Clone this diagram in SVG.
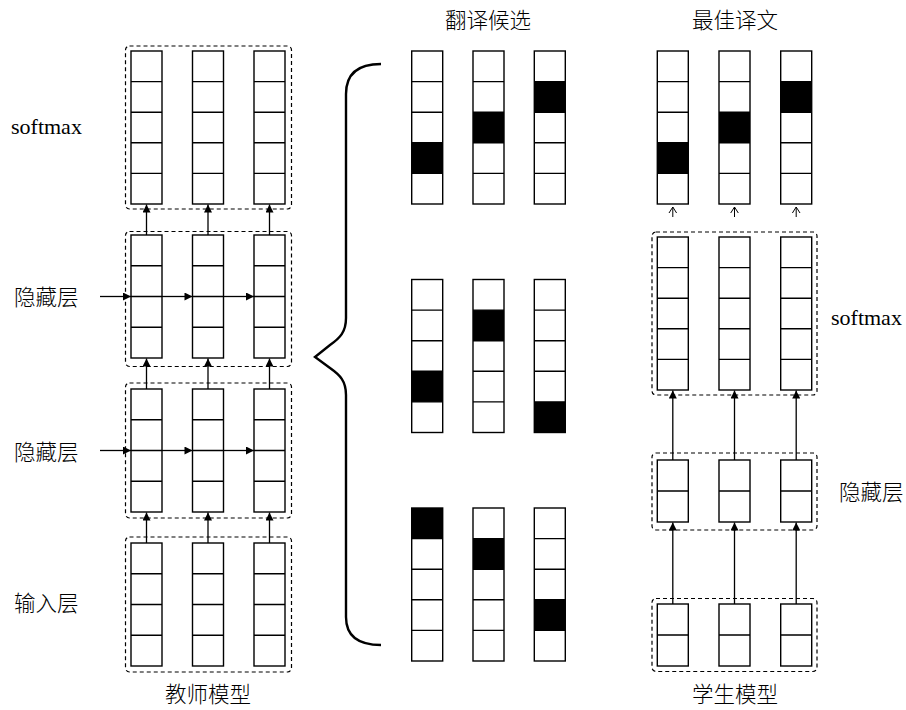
<svg xmlns="http://www.w3.org/2000/svg" width="906" height="710" viewBox="0 0 906 710">
<style>
.cell{fill:#fff;stroke:#000;stroke-width:1.4}
.div{fill:none;stroke:#000;stroke-width:1.4}
.on{fill:#000}
.box{fill:none;stroke:#000;stroke-width:1.2;stroke-dasharray:4 3}
.arr{stroke:#000;stroke-width:1.3;fill:none;marker-end:url(#ah)}
.sarr{stroke:#000;stroke-width:1;fill:none}
.lbl{font-family:"Liberation Serif","Noto Sans CJK SC",serif;font-size:22px;fill:#000}
.zh{font-family:"Noto Sans CJK SC","Liberation Sans",sans-serif;font-size:21.5px;font-weight:300;fill:#000}
.brace{fill:none;stroke:#000;stroke-width:2.4;stroke-linejoin:miter}
</style>
<defs>
<marker id="ah" viewBox="0 0 10 10" refX="10" refY="5" markerWidth="10" markerHeight="8" markerUnits="userSpaceOnUse" orient="auto">
<path d="M0,0 L10,5 L0,10 z" fill="#000"/>
</marker>
</defs>
<rect width="906" height="710" fill="#fff"/>

<!-- Teacher model -->
<g id="teacher-softmax">
<rect class="box" x="125.5" y="46" width="166" height="163" rx="4"/>
<rect class="cell" x="131" y="51" width="31" height="153"/>
<rect class="cell" x="192.5" y="51" width="31" height="153"/>
<rect class="cell" x="254" y="51" width="31" height="153"/>
<path class="div" d="M131,81.6h31M131,112.2h31M131,142.8h31M131,173.4h31M192.5,81.6h31M192.5,112.2h31M192.5,142.8h31M192.5,173.4h31M254,81.6h31M254,112.2h31M254,142.8h31M254,173.4h31"/>
</g>
<g id="teacher-hidden1">
<rect class="box" x="125.5" y="231.5" width="166" height="135" rx="4"/>
<rect class="cell" x="131" y="235" width="31" height="123"/>
<rect class="cell" x="192.5" y="235" width="31" height="123"/>
<rect class="cell" x="254" y="235" width="31" height="123"/>
<path class="div" d="M131,265.75h31M131,296.5h31M131,327.25h31M192.5,265.75h31M192.5,296.5h31M192.5,327.25h31M254,265.75h31M254,296.5h31M254,327.25h31"/>
</g>
<g id="teacher-hidden2">
<rect class="box" x="125.5" y="383" width="166" height="135" rx="4"/>
<rect class="cell" x="131" y="389" width="31" height="123"/>
<rect class="cell" x="192.5" y="389" width="31" height="123"/>
<rect class="cell" x="254" y="389" width="31" height="123"/>
<path class="div" d="M131,419.75h31M131,450.5h31M131,481.25h31M192.5,419.75h31M192.5,450.5h31M192.5,481.25h31M254,419.75h31M254,450.5h31M254,481.25h31"/>
</g>
<g id="teacher-input">
<rect class="box" x="125.5" y="537" width="166" height="135" rx="4"/>
<rect class="cell" x="131" y="543" width="31" height="123"/>
<rect class="cell" x="192.5" y="543" width="31" height="123"/>
<rect class="cell" x="254" y="543" width="31" height="123"/>
<path class="div" d="M131,573.75h31M131,604.5h31M131,635.25h31M192.5,573.75h31M192.5,604.5h31M192.5,635.25h31M254,573.75h31M254,604.5h31M254,635.25h31"/>
</g>

<!-- Candidates -->
<g id="candidates-1">
<rect class="cell" x="411.7" y="51" width="31" height="153"/>
<rect class="cell" x="473" y="51" width="31" height="153"/>
<rect class="cell" x="534.3" y="51" width="31" height="153"/>
<rect class="on" x="411.7" y="142.8" width="31" height="30.6"/>
<rect class="on" x="473" y="112.2" width="31" height="30.6"/>
<rect class="on" x="534.3" y="81.6" width="31" height="30.6"/>
<path class="div" d="M411.7,81.6h31M411.7,112.2h31M411.7,142.8h31M411.7,173.4h31M473,81.6h31M473,112.2h31M473,142.8h31M473,173.4h31M534.3,81.6h31M534.3,112.2h31M534.3,142.8h31M534.3,173.4h31"/>
</g>
<g id="candidates-2">
<rect class="cell" x="411.7" y="279.5" width="31" height="153"/>
<rect class="cell" x="473" y="279.5" width="31" height="153"/>
<rect class="cell" x="534.3" y="279.5" width="31" height="153"/>
<rect class="on" x="411.7" y="371.3" width="31" height="30.6"/>
<rect class="on" x="473" y="310.1" width="31" height="30.6"/>
<rect class="on" x="534.3" y="401.9" width="31" height="30.6"/>
<path class="div" d="M411.7,310.1h31M411.7,340.7h31M411.7,371.3h31M411.7,401.9h31M473,310.1h31M473,340.7h31M473,371.3h31M473,401.9h31M534.3,310.1h31M534.3,340.7h31M534.3,371.3h31M534.3,401.9h31"/>
</g>
<g id="candidates-3">
<rect class="cell" x="411.7" y="508" width="31" height="153"/>
<rect class="cell" x="473" y="508" width="31" height="153"/>
<rect class="cell" x="534.3" y="508" width="31" height="153"/>
<rect class="on" x="411.7" y="508" width="31" height="30.6"/>
<rect class="on" x="473" y="538.6" width="31" height="30.6"/>
<rect class="on" x="534.3" y="599.8" width="31" height="30.6"/>
<path class="div" d="M411.7,538.6h31M411.7,569.2h31M411.7,599.8h31M411.7,630.4h31M473,538.6h31M473,569.2h31M473,599.8h31M473,630.4h31M534.3,538.6h31M534.3,569.2h31M534.3,599.8h31M534.3,630.4h31"/>
</g>

<!-- Best translation -->
<g id="best-translation">
<rect class="cell" x="657.3" y="51" width="31" height="153"/>
<rect class="cell" x="719" y="51" width="31" height="153"/>
<rect class="cell" x="780.7" y="51" width="31" height="153"/>
<rect class="on" x="657.3" y="142.8" width="31" height="30.6"/>
<rect class="on" x="719" y="112.2" width="31" height="30.6"/>
<rect class="on" x="780.7" y="81.6" width="31" height="30.6"/>
<path class="div" d="M657.3,81.6h31M657.3,112.2h31M657.3,142.8h31M657.3,173.4h31M719,81.6h31M719,112.2h31M719,142.8h31M719,173.4h31M780.7,81.6h31M780.7,112.2h31M780.7,142.8h31M780.7,173.4h31"/>
</g>

<!-- Student model -->
<g id="student-softmax">
<rect class="box" x="652" y="232" width="165" height="163" rx="4"/>
<rect class="cell" x="657.3" y="237" width="31" height="153"/>
<rect class="cell" x="719" y="237" width="31" height="153"/>
<rect class="cell" x="780.7" y="237" width="31" height="153"/>
<path class="div" d="M657.3,267.6h31M657.3,298.2h31M657.3,328.8h31M657.3,359.4h31M719,267.6h31M719,298.2h31M719,328.8h31M719,359.4h31M780.7,267.6h31M780.7,298.2h31M780.7,328.8h31M780.7,359.4h31"/>
</g>
<g id="student-hidden">
<rect class="box" x="652" y="453" width="165" height="77" rx="4"/>
<rect class="cell" x="657.3" y="460" width="31" height="62"/>
<rect class="cell" x="719" y="460" width="31" height="62"/>
<rect class="cell" x="780.7" y="460" width="31" height="62"/>
<path class="div" d="M657.3,491h31M719,491h31M780.7,491h31"/>
</g>
<g id="student-input">
<rect class="box" x="652" y="598.5" width="165" height="73" rx="4"/>
<rect class="cell" x="657.3" y="604" width="31" height="62"/>
<rect class="cell" x="719" y="604" width="31" height="62"/>
<rect class="cell" x="780.7" y="604" width="31" height="62"/>
<path class="div" d="M657.3,635h31M719,635h31M780.7,635h31"/>
</g>

<!-- Brace -->
<g id="brace">
<path class="brace" d="M381,64 C360,64 346,72 346,94 L346,318 C346,332 340,338 330,345 L315,357 L330,368 C340,375 346,381 346,395 L346,617 C346,637 360,645 381,645"/>
</g>

<!-- Connectors -->
<g id="connectors">
<path class="arr" d="M146.5,543V512.5"/>
<path class="arr" d="M208,543V512.5"/>
<path class="arr" d="M269.5,543V512.5"/>
<path class="arr" d="M146.5,389V358.5"/>
<path class="arr" d="M208,389V358.5"/>
<path class="arr" d="M269.5,389V358.5"/>
<path class="arr" d="M146.5,235V204.5"/>
<path class="arr" d="M208,235V204.5"/>
<path class="arr" d="M269.5,235V204.5"/>
<path class="arr" d="M100,296.5H131"/>
<path class="arr" d="M162,296.5H192.5"/>
<path class="arr" d="M223.5,296.5H254"/>
<path class="arr" d="M100,450.5H131"/>
<path class="arr" d="M162,450.5H192.5"/>
<path class="arr" d="M223.5,450.5H254"/>
<path class="arr" d="M672.8,604V522.5"/>
<path class="arr" d="M734.5,604V522.5"/>
<path class="arr" d="M796.2,604V522.5"/>
<path class="arr" d="M672.8,460V390.5"/>
<path class="arr" d="M734.5,460V390.5"/>
<path class="arr" d="M796.2,460V390.5"/>
<path class="sarr" d="M672.8,217V207M669,213L672.8,207L676.6,213"/>
<path class="sarr" d="M734.5,217V207M730.7,213L734.5,207L738.3,213"/>
<path class="sarr" d="M796.2,217V207M792.4,213L796.2,207L800,213"/>
</g>

<!-- Labels -->
<g id="labels">
<text class="lbl" x="11" y="134">softmax</text>
<text class="zh" x="14" y="305">隐藏层</text>
<text class="zh" x="14" y="460">隐藏层</text>
<text class="zh" x="14" y="611">输入层</text>
<text class="zh" x="208" y="702" text-anchor="middle">教师模型</text>
<text class="zh" x="488" y="28" text-anchor="middle">翻译候选</text>
<text class="zh" x="735" y="28" text-anchor="middle">最佳译文</text>
<text class="lbl" x="831" y="325">softmax</text>
<text class="zh" x="839" y="500">隐藏层</text>
<text class="zh" x="735" y="702" text-anchor="middle">学生模型</text>
</g>
</svg>
